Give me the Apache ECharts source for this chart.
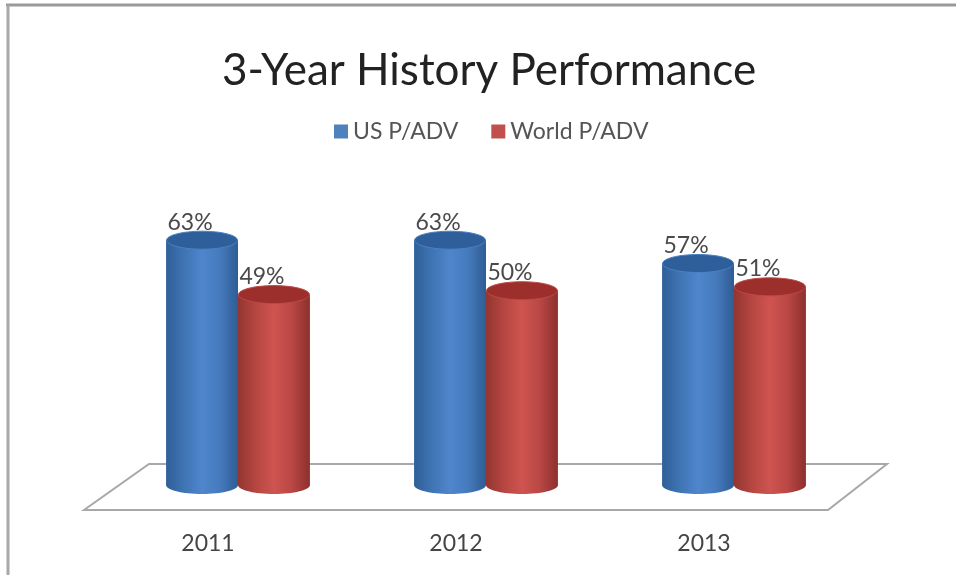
<!DOCTYPE html>
<html><head><meta charset="utf-8">
<style>html,body{margin:0;padding:0;background:#fff}#c{width:956px;height:577px}</style>
<script src="https://cdn.jsdelivr.net/npm/echarts@6/dist/echarts.min.js"></script>
</head><body><div id="c"></div>
<script>
const categories = ['2011', '2012', '2013'];
const usValues = [63, 63, 57];
const worldValues = [49, 50, 51];
const seriesNames = ['US P/ADV', 'World P/ADV'];
const titleText = '3-Year History Performance';

const blue = { base: '#4f81bd', stops: ['#2f5f98', '#3f74b4', '#4f86cc', '#457bbd', '#2f5c94'], top: '#2f5f9b', rim: '#4a82c2' };
const red = { base: '#c0504d', stops: ['#93352f', '#b64641', '#cf5450', '#b94744', '#8c302d'], top: '#9c2f2c', rim: '#c04845' };

const chart = echarts.init(document.getElementById('c'), null, { renderer: 'canvas' });

function cylinder(values, palette, seriesIndex) {
  return {
    type: 'custom',
    name: seriesNames[seriesIndex],
    data: values.map((v, i) => [i, v]),
    itemStyle: { color: palette.base },
    z: 3 + seriesIndex,
    encode: { x: 0, y: 1 },
    renderItem(params, api) {
      const cat = api.value(0), val = api.value(1);
      const top = api.coord([cat, val]);
      const bottom = api.coord([cat, 0]);
      const band = api.size([1, 0])[0];
      const w = band * 0.29;
      const cx = top[0] + (seriesIndex === 0 ? -w / 2 : w / 2);
      const rx = w / 2, ry = 9;
      const grad = new echarts.graphic.LinearGradient(0, 0, 1, 0, palette.stops.map((c, i) => ({ offset: i / 4, color: c })));
      return {
        type: 'group',
        children: [
          { type: 'ellipse', shape: { cx, cy: bottom[1], rx, ry }, style: { fill: grad } },
          { type: 'rect', shape: { x: cx - rx, y: top[1], width: w, height: bottom[1] - top[1] }, style: { fill: grad } },
          { type: 'ellipse', shape: { cx, cy: top[1], rx: rx - 0.5, ry }, style: { fill: palette.top, stroke: palette.rim, lineWidth: 1 } },
          { type: 'text', x: cx - 12, y: top[1] - 18, style: { text: val + '%', fill: '#4a4a4a', font: '23px Lato', textAlign: 'center', textVerticalAlign: 'middle' } }
        ]
      };
    }
  };
}

chart.setOption({
  animation: false,
  backgroundColor: '#fff',
  title: { text: titleText, left: 217, top: 44, textStyle: { fontFamily: 'Lato', fontWeight: 'normal', fontSize: 44, color: '#222' } },
  legend: {
    top: 115, left: 329, itemWidth: 14, itemHeight: 14, itemGap: 33,
    icon: 'rect',
    textStyle: { fontFamily: 'Lato', fontSize: 23, color: '#555' },
    data: seriesNames
  },
  grid: { left: 114, right: 98, top: 213, height: 272 },
  xAxis: {
    type: 'category', data: categories,
    axisLine: { show: false }, axisTick: { show: false },
    axisLabel: { fontFamily: 'Lato', fontSize: 23, color: '#444', margin: 47, padding: [0, 60, 0, 0] }
  },
  yAxis: { type: 'value', min: 0, max: 70, show: false, splitLine: { show: false } },
  graphic: [
    { type: 'line', z: -2, shape: { x1: 6, y1: 5, x2: 956, y2: 5 }, style: { stroke: '#9a9a9a', lineWidth: 3 } },
    { type: 'line', z: -2, shape: { x1: 8, y1: 5, x2: 8, y2: 575 }, style: { stroke: '#a8a8a8', lineWidth: 3 } },
    { type: 'polygon', z: -1, shape: { points: [[84, 510], [149, 464], [887, 464], [828, 510]] }, style: { fill: '#fff', stroke: '#a8a8a8', lineWidth: 2 } }
  ],
  series: [cylinder(usValues, blue, 0), cylinder(worldValues, red, 1)]
});
</script></body></html>
